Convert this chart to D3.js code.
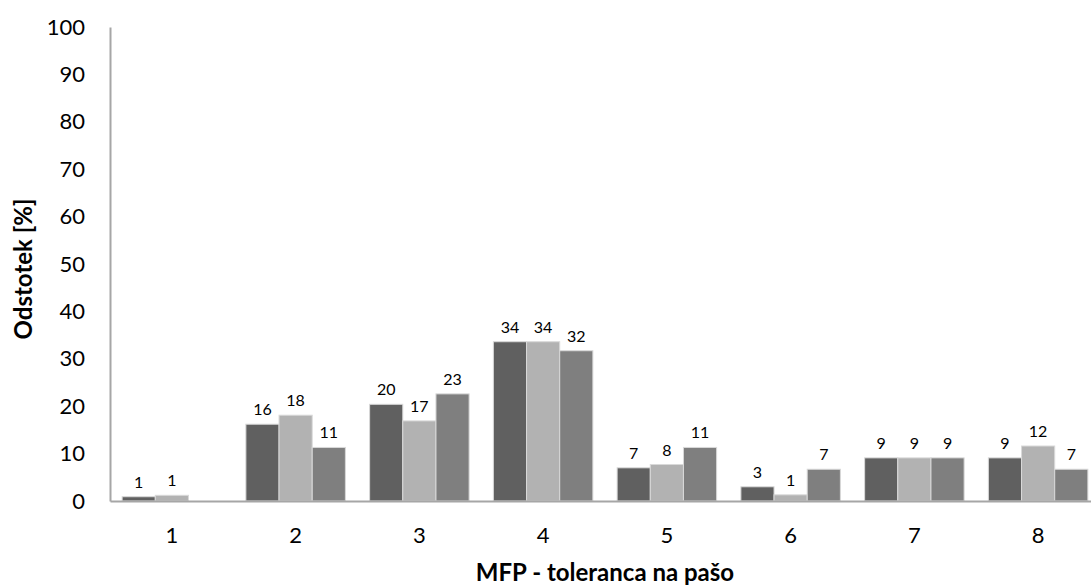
<!DOCTYPE html>
<html>
<head>
<meta charset="utf-8">
<script src="https://cdn.jsdelivr.net/npm/d3@7"></script>
<style>
  html, body { margin: 0; padding: 0; background: #ffffff; }
  svg { display: block; font-family: Lato, "Open Sans", sans-serif; }
</style>
</head>
<body>
<svg id="chart" width="1091" height="588"></svg>
<script>
// Categories on the x axis (MFP tolerance classes)
const categories = ["1", "2", "3", "4", "5", "6", "7", "8"];

// Three series of percentages, one value per category
const seriesA = [0.9, 16.2, 20.4, 33.6, 7.0, 3.0, 9.1, 9.1];
const seriesB = [1.2, 18.1, 16.9, 33.6, 7.7, 1.3, 9.1, 11.6];
const seriesC = [0,   11.3, 22.6, 31.7, 11.3, 6.7, 9.1, 6.7];

const seriesNames = ["A", "B", "C"];
const seriesColors = ["#606060", "#b2b2b2", "#7f7f7f"];

// Y axis tick values
const yTicks = [0, 10, 20, 30, 40, 50, 60, 70, 80, 90, 100];

const yTitle = "Odstotek [%]";
const xTitle = "MFP - toleranca na pašo";

const allSeries = [seriesA, seriesB, seriesC];

const svg = d3.select("#chart");

const x0 = d3.scaleBand()
  .domain(categories)
  .range([110, 1100])
  .paddingInner(0.196)
  .paddingOuter(0.098);

const x1 = d3.scaleBand()
  .domain(seriesNames)
  .range([0, x0.bandwidth()])
  .padding(0);

const y = d3.scaleLinear()
  .domain([0, 100])
  .range([501, 27]);

// Bars
const groups = svg.append("g")
  .selectAll("g")
  .data(categories)
  .join("g")
  .attr("transform", d => `translate(${x0(d)},0)`);

const cells = groups.selectAll("g")
  .data((c, i) => allSeries.map((s, k) => ({ name: seriesNames[k], value: s[i], color: seriesColors[k] })))
  .join("g");

cells.filter(d => d.value > 0)
  .append("rect")
  .attr("x", d => x1(d.name))
  .attr("y", d => y(d.value))
  .attr("width", x1.bandwidth())
  .attr("height", d => y(0) - y(d.value))
  .attr("fill", d => d.color)
  .attr("stroke", "#d9d9d9")
  .attr("stroke-width", 1);

// Value labels above bars
cells.filter(d => d.value > 0)
  .append("text")
  .attr("x", d => x1(d.name) + x1.bandwidth() / 2)
  .attr("y", d => y(d.value) - 9)
  .attr("text-anchor", "middle")
  .attr("font-size", 16)
  .attr("fill", "#000")
  .text(d => d3.format(".0f")(d.value));

// Y axis
const yAxis = d3.axisLeft(y)
  .tickValues(yTicks)
  .tickSize(0)
  .tickPadding(25);

const gy = svg.append("g")
  .attr("transform", "translate(110,0)")
  .call(yAxis);
gy.select(".domain").attr("stroke", "#a6a6a6").attr("stroke-width", 2);
gy.selectAll("text")
  .attr("font-size", 22)
  .attr("font-family", "Lato, 'Open Sans', sans-serif")
  .attr("fill", "#000");

// X axis
const xAxis = d3.axisBottom(x0)
  .tickSize(0)
  .tickPadding(26);

const gx = svg.append("g")
  .attr("transform", "translate(0,501)")
  .call(xAxis);
gx.select(".domain").attr("stroke", "#a6a6a6").attr("stroke-width", 2);
gx.selectAll("text")
  .attr("font-size", 22)
  .attr("font-family", "Lato, 'Open Sans', sans-serif")
  .attr("fill", "#000");

// Axis titles
svg.append("text")
  .attr("transform", "translate(32,269) rotate(-90)")
  .attr("text-anchor", "middle")
  .attr("font-size", 24)
  .attr("font-weight", "bold")
  .attr("fill", "#000")
  .text(yTitle);

svg.append("text")
  .attr("x", 605)
  .attr("y", 581)
  .attr("text-anchor", "middle")
  .attr("font-size", 24)
  .attr("font-weight", "bold")
  .attr("fill", "#000")
  .text(xTitle);
</script>
</body>
</html>
